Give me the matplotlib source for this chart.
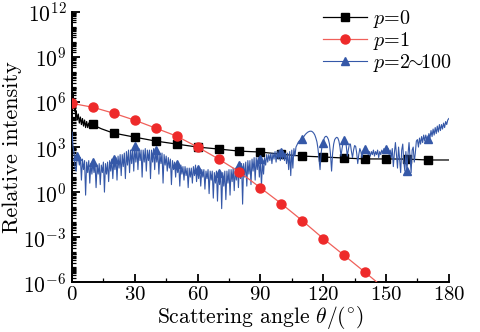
import numpy as np
import matplotlib
matplotlib.use("Agg")
import matplotlib.pyplot as plt
from matplotlib.ticker import LogLocator, MultipleLocator, FixedLocator, NullFormatter

# ---------------- data (log10 of relative intensity) ----------------
# p = 0 : dense near forward direction, then every 10 degrees
p0_angle = [0, 0.25, 0.5, 0.75, 1, 1.25, 1.5, 1.75, 2, 2.5, 3, 3.5, 4, 4.5, 5, 5.5,
            6, 6.5, 7, 7.5, 8, 8.5, 9, 9.5, 10, 12, 14, 16, 18, 20, 30, 40, 50,
            60, 70, 80, 90, 100, 110, 120, 130, 140, 150, 160, 170, 180]
p0_log = [7.0, 6.3, 6.6, 5.8, 6.0, 5.4, 5.7, 5.0, 5.4, 4.8, 5.2, 4.6, 5.0, 4.5, 4.9, 4.4,
          4.8, 4.3, 4.7, 4.3, 4.6, 4.3, 4.6, 4.3, 4.52, 4.35, 4.22, 4.12, 4.02, 3.93, 3.66, 3.40, 3.20,
          3.00, 2.87, 2.73, 2.67, 2.52, 2.40, 2.34, 2.27, 2.21, 2.21, 2.20, 2.14, 2.14]
p0_marker_angles = [10, 20, 30, 40, 50, 60, 70, 80, 90, 100, 110, 120, 130, 140, 150, 160, 170]

# p = 1
p1_angle = [0, 10, 20, 30, 40, 50, 60, 70, 80, 90, 100, 110, 120, 130, 140, 150]
p1_log = [5.91, 5.65, 5.25, 4.79, 4.26, 3.73, 3.00, 2.21, 1.34, 0.29, -0.77, -1.90,
          -3.09, -4.21, -5.34, -6.50]
p1_marker_angles = [0, 10, 20, 30, 40, 50, 60, 70, 80, 90, 100, 110, 120, 130, 140]

# p = 2~100 : sampled every 0.5 degree (0 ... 180)
p2_log = [
    # 0 - 10
    4.0, 3.0, 2.6, 1.6, 1.4, 2.4, 2.3, 1.8, 2.3, 0.8, 2.2, 1.5, 2.1, -0.2, 2.0, 1.3,
    2.1, 0.6, 1.9, 1.2, 2.0,
    # 10.5 - 20
    1.3, 1.9, 0.3, 1.8, 1.2, 1.9, 0.5, 1.8, 1.3, 2.0, 0.0, 1.9, 1.2, 2.0, 0.7, 2.1,
    1.4, 2.2, 0.9, 2.2,
    # 20.5 - 30
    1.5, 2.3, 0.8, 2.4, 1.6, 2.5, 1.1, 2.5, 1.7, 2.6, 0.9, 2.7, 1.8, 2.8, 1.3, 2.8,
    1.9, 2.9, 1.4, 3.05,
    # 30.5 - 45
    2.0, 2.9, 1.5, 2.9, 2.1, 2.8, 1.0, 2.8, 2.0, 2.9, 1.4, 2.8, 2.1, 2.8, 0.9, 2.8,
    2.0, 2.9, 1.5, 2.8, 2.0, 2.7, 1.2, 2.6, 1.9, 2.6, 0.6, 2.5, 1.8, 2.4,
    # 45.5 - 60
    1.4, 2.3, 1.6, 2.2, 0.5, 2.1, 1.5, 2.0, 1.0, 1.9, 1.3, 1.8, 0.4, 1.8, 1.2, 1.7,
    0.8, 1.7, 1.1, 1.6, 0.3, 1.6, 1.0, 1.6, 0.6, 1.7, 1.1, 1.8, 0.7, 1.55,
    # 60.5 - 80
    0.9, 1.6, 0.4, 1.5, 1.0, 1.5, 0.2, 1.4, 0.9, 1.5, -0.1, 1.4, 0.8, 1.4, -0.4, 1.3,
    0.6, 1.4, -0.6, 1.3, 0.5, 1.4, -1.1, 1.3, 0.4, 1.4, -0.5, 1.4, 0.6, 1.5, -0.2, 1.5,
    0.7, 1.6, 0.1, 1.6, 0.8, 1.7, 0.3, 1.8,
    # 80.5 - 90
    0.9, 1.9, -0.8, 1.9, 1.0, 2.0, 0.4, 2.1, 1.2, 2.1, 0.5, 2.2, 1.4, 2.3, 0.8, 2.3,
    1.5, 2.3, 1.0, 2.2,
    # 90.5 - 106
    0.4, 2.0, 1.2, 2.3, 1.8, 2.5, 2.0, 2.5, 2.1, 2.6, 1.9, 2.6, 2.2, 2.7, 2.0, 2.7,
    2.2, 2.8, 2.1, 2.7, 2.2, 2.7, 2.1, 2.6, 1.9, 2.6, 1.5, 2.7, 1.1, 2.8, 1.6, 2.9,
    # 106.5 - 120
    2.4, 3.0, 3.15, 3.3, 3.4, 3.45, 3.5, 3.55, 3.65, 3.75, 3.85, 3.92, 3.98, 4.02,
    4.05, 4.06, 4.05, 4.0, 3.92, 3.8, 3.6, 3.35, 2.9, 2.2, 1.5, 2.6, 3.1, 3.3,
    # 120.5 - 140
    3.6, 3.7, 3.72, 3.65, 3.5, 3.2, 2.5, 1.4, 2.6, 3.2, 3.5, 3.6, 3.65, 3.6, 3.4, 3.0,
    2.4, 2.9, 3.3, 3.45, 3.4, 3.1, 2.4, 2.8, 3.2, 3.2, 2.7, 2.3, 2.8, 3.1, 3.05, 2.6,
    1.9, 2.5, 2.9, 2.7, 2.3, 2.6, 2.8, 2.9,
    # 140.5 - 152
    2.6, 2.8, 2.5, 2.7, 2.4, 2.7, 2.5, 2.8, 2.4, 2.7, 2.5, 2.8, 2.3, 2.7, 2.5, 2.8,
    2.6, 2.9, 2.7, 2.9, 2.8, 2.9, 2.5, 2.8,
    # 152.5 - 165
    2.3, 2.9, 1.7, 2.6, 3.3, 2.5, 1.6, 3.0, 2.2, 1.3, 2.8, 3.2, 2.0, 1.4, 2.7, 1.4,
    2.5, 3.3, 2.3, 1.3, 2.8, 3.0, 2.0, 2.6, 3.4, 3.5,
    # 165.5 - 180
    3.0, 3.6, 3.2, 3.7, 3.3, 3.8, 3.4, 3.8, 3.5, 3.55, 3.9, 3.6, 4.1, 3.7, 4.2, 3.8,
    4.3, 3.9, 4.4, 4.0, 4.5, 4.1, 4.5, 4.2, 4.6, 4.3, 4.7, 4.5, 4.8, 4.9,
]
p2_step = 0.5
p2_marker_angles = [2.5, 10, 20, 30, 40, 50, 60, 70, 80, 90, 100, 110, 120, 130,
                    140, 150, 160, 170]

legend_labels = [r'$p$=0', r'$p$=1', r'$p$=2$\!\!\sim\!\!$100']
x_ticks = [0, 30, 60, 90, 120, 150, 180]

# ---------------- style ----------------
plt.rcParams['font.family'] = ['cmr10', 'DejaVu Serif']
plt.rcParams['mathtext.fontset'] = 'cm'
plt.rcParams['axes.formatter.use_mathtext'] = True
plt.rcParams['axes.unicode_minus'] = False

fig = plt.figure(figsize=(4.8, 3.32), dpi=100)
fig.patch.set_facecolor('white')
ax = fig.add_axes([0.150, 0.150, 0.785, 0.814])

a0 = np.array(p0_angle, dtype=float)
y0 = 10.0 ** np.array(p0_log)
m0 = list(np.isin(a0, p0_marker_angles))

a1 = np.array(p1_angle, dtype=float)
y1 = 10.0 ** np.array(p1_log)
m1 = list(np.isin(a1, p1_marker_angles))

y2 = 10.0 ** np.array(p2_log)
a2 = np.arange(len(p2_log)) * p2_step
m2 = list(np.isin(a2, p2_marker_angles))

black = '#000000'
red_line = '#f0605a'
red_mark = '#ee2a2a'
blue = '#3558a8'

l0, = ax.plot(a0, y0, color=black, lw=0.9, marker='s', ms=5.5, markevery=m0,
              zorder=3, label=legend_labels[0])
l2, = ax.plot(a2, y2, color=blue, lw=0.8, marker='^', ms=6, markevery=m2,
              zorder=4, label=legend_labels[2])
l1, = ax.plot(a1, y1, color=red_line, lw=0.9, marker='o', ms=6.5, markevery=m1,
              markerfacecolor=red_mark, markeredgecolor=red_mark,
              zorder=5, label=legend_labels[1])

ax.set_yscale('log')
ax.set_xlim(0, 180)
ax.set_ylim(1e-6, 1e12)
ax.yaxis.set_major_locator(FixedLocator([1e-6, 1e-3, 1e0, 1e3, 1e6, 1e9, 1e12]))
ax.yaxis.set_minor_locator(LogLocator(base=10, subs=np.arange(1, 10), numticks=100))
ax.yaxis.set_minor_formatter(NullFormatter())
ax.xaxis.set_major_locator(FixedLocator(x_ticks))
ax.xaxis.set_minor_locator(MultipleLocator(15))

for s in ('top', 'right'):
    ax.spines[s].set_visible(False)
for s in ('left', 'bottom'):
    ax.spines[s].set_linewidth(1.4)

ax.tick_params(which='major', direction='in', length=6, width=1.3, labelsize=15.5,
               top=False, right=False, pad=4)
ax.tick_params(axis='x', which='major', pad=3, labelsize=15)
ax.tick_params(which='minor', direction='in', length=3, width=0.9,
               top=False, right=False)

ax.set_xlabel(r'Scattering angle $\theta/(^{\circ})$', fontsize=15.5, labelpad=0)
ax.set_ylabel('Relative intensity', fontsize=16, labelpad=1)

ax.legend(handles=[l0, l1, l2], loc='upper right', frameon=False, fontsize=14.5,
          handlelength=2.2, handletextpad=0.3, labelspacing=0.0,
          borderaxespad=0.0, borderpad=0.2, bbox_to_anchor=(1.02, 1.03))

fig.savefig('out.png', dpi=100, facecolor='white')
